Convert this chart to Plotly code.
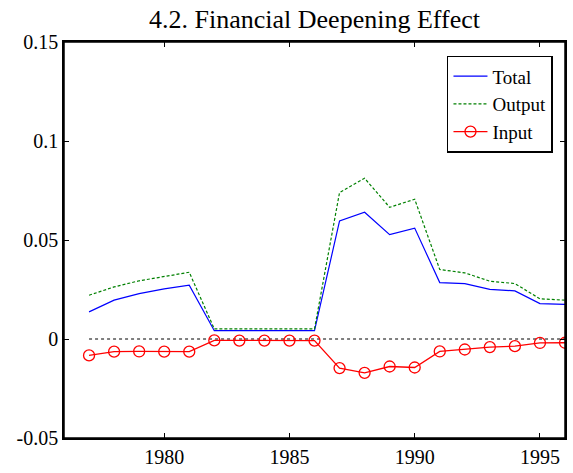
"""Financial deepening effect chart recreated with Plotly."""

import plotly.graph_objects as go

years = list(range(1977, 1997))

total = [0.0137, 0.0196, 0.0229, 0.0253, 0.0272,
         0.0042, 0.0042, 0.0042, 0.0042, 0.0042,
         0.0596, 0.0640, 0.0527, 0.0560, 0.0285,
         0.0280, 0.0251, 0.0243, 0.0179, 0.0175]

output = [0.0221, 0.0263, 0.0294, 0.0317, 0.0337,
          0.0051, 0.0051, 0.0051, 0.0051, 0.0051,
          0.0740, 0.0812, 0.0665, 0.0706, 0.0351,
          0.0334, 0.0292, 0.0280, 0.0203, 0.0196]

inputs = [-0.0083, -0.0064, -0.0063, -0.0064, -0.0064,
          -0.0007, -0.0008, -0.0008, -0.0008, -0.0008,
          -0.0147, -0.0171, -0.0139, -0.0144, -0.0063,
          -0.0053, -0.0041, -0.0036, -0.0020, -0.0019]

zero_line = [0] * len(years)

x_ticks = [1980, 1985, 1990, 1995]
y_ticks = [-0.05, 0, 0.05, 0.1, 0.15]
y_labels = ["-0.05", "0", "0.05", "0.1", "0.15"]

FONT = "Liberation Serif"

fig = go.Figure()

fig.add_trace(go.Scatter(
    x=years, y=zero_line, mode="lines", showlegend=False,
    line=dict(color="black", width=1, dash="dot"), hoverinfo="skip"))

fig.add_trace(go.Scatter(
    x=years, y=total, mode="lines", name="Total",
    line=dict(color="#0000ff", width=1.2)))

fig.add_trace(go.Scatter(
    x=years, y=output, mode="lines", name="Output",
    line=dict(color="#008000", width=1.2, dash="3px,2px")))

fig.add_trace(go.Scatter(
    x=years, y=inputs, mode="lines+markers", name="Input",
    line=dict(color="#ff0000", width=1.3),
    marker=dict(symbol="circle-open", size=11, color="#ff0000",
                line=dict(width=1.3, color="#ff0000"))))

axis_style = dict(
    showline=True, linecolor="black", linewidth=1.5, mirror="ticks",
    ticks="inside", ticklen=5, tickwidth=1, tickcolor="black",
    showgrid=False, zeroline=False, automargin=False,
    tickfont=dict(family=FONT, size=20, color="black"),
)

fig.update_xaxes(range=[1976, 1996], tickvals=x_ticks, **axis_style)
fig.update_yaxes(range=[-0.05, 0.15], tickvals=y_ticks, ticktext=y_labels,
                 **axis_style)

# box round the plot area, like the matlab frame
fig.add_shape(type="rect", xref="paper", yref="paper", x0=0, x1=1, y0=0, y1=1,
              line=dict(color="black", width=1.5), layer="above")

fig.update_layout(
    width=573, height=473,
    margin=dict(l=64, r=8, t=42, b=35),
    paper_bgcolor="white", plot_bgcolor="white",
    font=dict(family=FONT, color="black"),
    title=dict(text="4.2. Financial Deepening Effect",
               font=dict(family=FONT, size=26, color="black"),
               x=314.5 / 573, xanchor="center",
               yref="container", y=1 - 19 / 473, yanchor="middle"),
    legend=dict(x=0.976, y=0.965, xanchor="right", yanchor="top",
                bgcolor="white", bordercolor="black", borderwidth=1.5,
                font=dict(family=FONT, size=19, color="black"),
                tracegroupgap=0, itemwidth=34),
    showlegend=True,
)

# drop the default body margin so the figure sits at the window's corner
fig.write_html("out.html", config={"displayModeBar": False},
               post_script="document.body.style.margin = '0';")
